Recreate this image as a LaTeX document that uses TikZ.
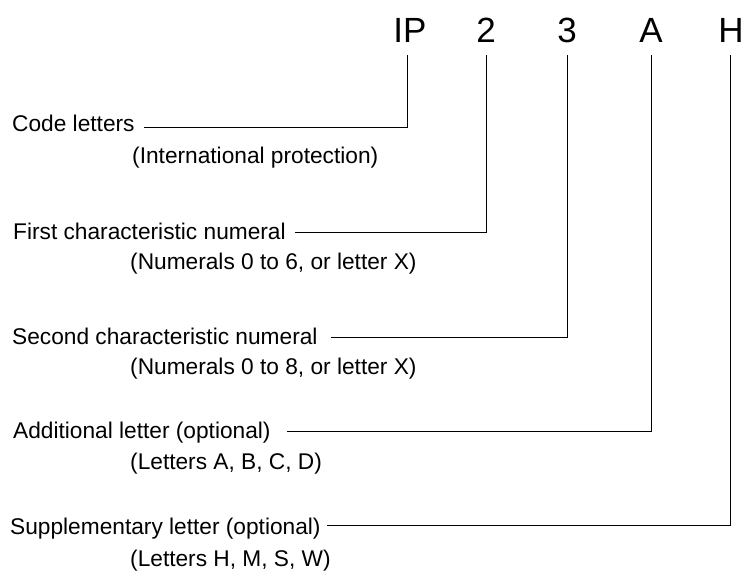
\documentclass[tikz,border=0pt]{standalone}
\usepackage{fontspec}
\setmainfont{Liberation Sans}
\begin{document}
\begin{tikzpicture}[x=1pt,y=-1pt,
  lbl/.style={anchor=base west,inner sep=0pt,font=\fontsize{22.7}{27}\selectfont},
  hdr/.style={anchor=base,inner sep=0pt,font=\fontsize{35}{40}\selectfont},
  conn/.style={draw=black,line width=0.9pt}]
\useasboundingbox (0,0) rectangle (746,572);
% header
\node[hdr] (hIP) at (410,43) {IP};
\node[hdr] (h2) at (486,43) {2};
\node[hdr] (h3) at (567,43) {3};
\node[hdr] (hA) at (651,43) {A};
\node[hdr] (hH) at (731,43) {H};
% labels
\node[lbl] (code) at (12,132) {Code letters};
\node[lbl] (codep) at (132,164) {(International protection)};
\node[lbl] (first) at (13,239) {First characteristic numeral};
\node[lbl] (firstp) at (130,269) {(Numerals 0 to 6, or letter X)};
\node[lbl] (second) at (12,344) {Second characteristic numeral};
\node[lbl] (secondp) at (130,374) {(Numerals 0 to 8, or letter X)};
\node[lbl] (add) at (13,438) {Additional letter (optional)};
\node[lbl] (addp) at (130,469) {(Letters A, B, C, D)};
\node[lbl] (supp) at (10,534) {Supplementary letter (optional)};
\node[lbl] (suppp) at (130,566) {(Letters H, M, S, W)};
% connectors
\draw[conn] ([xshift=9pt,yshift=5pt]code.base east) -| ([xshift=-3pt,yshift=-12pt]hIP.base);
\draw[conn] ([xshift=9pt,yshift=7pt]first.base east) -| ([yshift=-12pt]h2.base);
\draw[conn] ([xshift=13pt,yshift=7pt]second.base east) -| ([yshift=-12pt]h3.base);
\draw[conn] ([xshift=16pt,yshift=7pt]add.base east) -| ([yshift=-12pt]hA.base);
\draw[conn] ([xshift=6pt,yshift=9pt]supp.base east) -| ([xshift=-1pt,yshift=-12pt]hH.base);
\end{tikzpicture}
\end{document}
